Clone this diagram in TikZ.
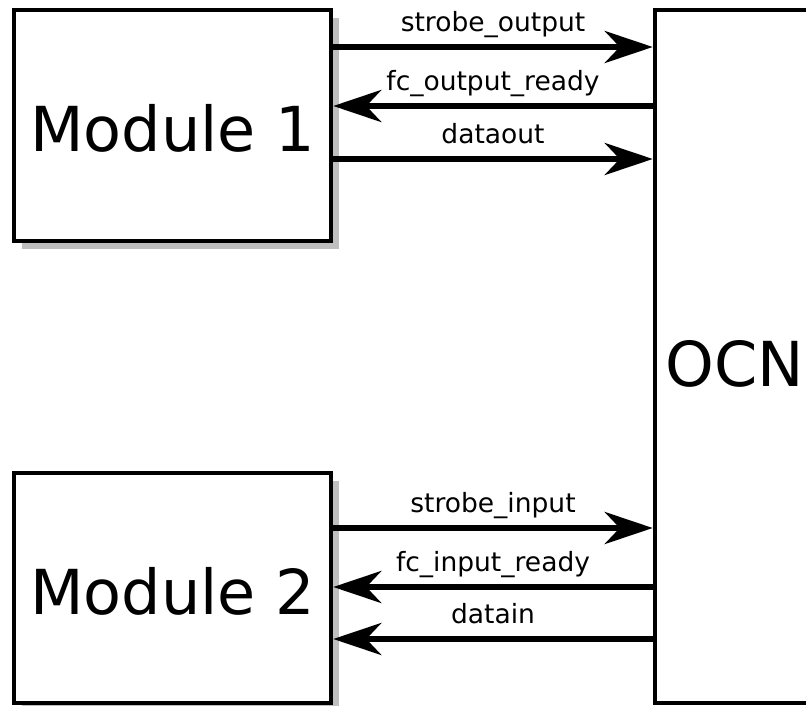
\documentclass[tikz,border=0pt]{standalone}
\usepackage{fontspec}
\setmainfont{DejaVu Sans}
\usetikzlibrary{arrows.meta,shadows}
\newcommand\lowr[1]{\raisebox{-3pt}[\height][\depth]{#1}}
\begin{document}
\begin{tikzpicture}[x=1pt,y=-1pt,
  box/.style={draw, line width=4.5pt, fill=white, line join=miter, inner sep=0pt},
  modbox/.style={box, minimum width=317pt,
    drop shadow={shadow xshift=8pt, shadow yshift=-8pt, fill=black!25, opacity=1},
    font=\fontsize{62}{70}\selectfont},
  sig/.style={line width=6pt, -{Stealth[length=48pt,width=32pt,inset=15pt]}},
  lbl/.style={font=\fontsize{26.5}{30}\selectfont, anchor=base, inner sep=0pt, yshift=15.5pt}]
\useasboundingbox (0,0) rectangle (806,706);
\node[modbox, minimum height=231pt] (m1) at (172.5,125.5) {\lowr{Module 1}};
\node[modbox, minimum height=230pt] (m2) at (172.5,588) {\lowr{Module 2}};
\node[box, minimum width=160pt, minimum height=693pt] (ocn) at (735,356.5) {};
\node[font=\fontsize{62}{70}\selectfont, inner sep=0pt] (ocntxt) at (735,364) {OCN};
\coordinate (y1) at (0,47);
\coordinate (y2) at (0,106);
\coordinate (y3) at (0,159);
\coordinate (y4) at (0,528);
\coordinate (y5) at (0,587);
\coordinate (y6) at (0,639);
\draw[sig] (m1.east |- y1) -- node[lbl] {strobe\_output} (ocn.west |- y1);
\draw[sig] (ocn.west |- y2) -- node[lbl] {fc\_output\_ready} (m1.east |- y2);
\draw[sig] (m1.east |- y3) -- node[lbl] {dataout} (ocn.west |- y3);
\draw[sig] (m2.east |- y4) -- node[lbl] {strobe\_input} (ocn.west |- y4);
\draw[sig] (ocn.west |- y5) -- node[lbl] {fc\_input\_ready} (m2.east |- y5);
\draw[sig] (ocn.west |- y6) -- node[lbl] {datain} (m2.east |- y6);
\end{tikzpicture}
\end{document}
